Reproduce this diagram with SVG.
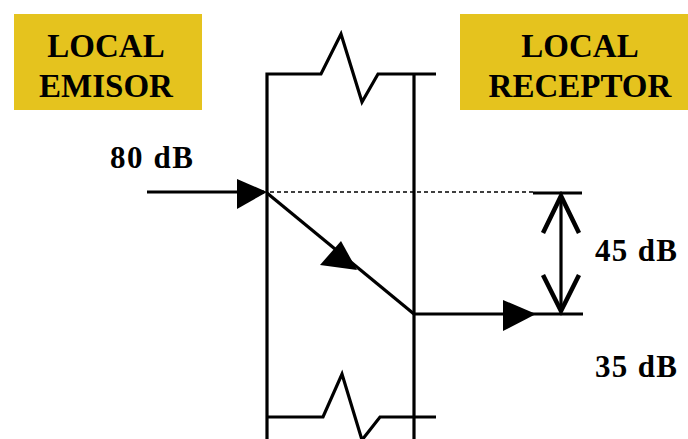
<svg xmlns="http://www.w3.org/2000/svg" width="688" height="439" viewBox="0 0 688 439">
<style>
.box{fill:#E5C31E;}
.lbl{font-family:"Liberation Serif","Times New Roman",Times,serif;font-weight:bold;font-size:33px;fill:#000;text-anchor:middle;}
.db{font-family:"Liberation Serif","Times New Roman",Times,serif;font-weight:bold;font-size:31px;fill:#000;}
.ln{stroke:#000;stroke-width:3.2;fill:none;stroke-linejoin:miter;}
.thin{stroke:#000;stroke-width:1.6;fill:none;stroke-dasharray:4 3;}
.chev{stroke:#000;stroke-width:4.5;fill:none;stroke-linejoin:miter;stroke-linecap:butt;}
.head{fill:#000;}
</style>
<rect width="688" height="439" fill="#fff"/>
<g id="local-emisor">
<rect class="box" x="14" y="14" width="188" height="96"/>
<text class="lbl" x="106" y="57" font-family="Liberation Serif, serif">LOCAL</text>
<text class="lbl" x="106" y="97" font-family="Liberation Serif, serif">EMISOR</text>
</g>
<g id="local-receptor">
<rect class="box" x="460" y="14" width="228" height="96"/>
<text class="lbl" x="580" y="57" font-family="Liberation Serif, serif">LOCAL</text>
<text class="lbl" x="580" y="97" font-family="Liberation Serif, serif">RECEPTOR</text>
</g>
<g id="wall">
<path class="ln" d="M267,439 L267,74 L321,74 L341,34 L362,102 L378,74 L436,74"/>
<path class="ln" d="M414,74 L414,439"/>
<path class="ln" d="M267,417 L323,417 L342,374 L362,440 L380,417 L436,417"/>
</g>
<g id="labels">
<text class="db" x="110" y="168" textLength="83">80 dB</text>
<text class="db" x="595" y="261" textLength="82">45 dB</text>
<text class="db" x="595" y="377" textLength="82">35 dB</text>
</g>
<g id="connectors">
<line class="ln" x1="147" y1="192" x2="264" y2="192"/>
<polygon class="head" points="237,179 267,192 237,209"/>
<line class="thin" x1="270" y1="192" x2="534" y2="192"/>
<line class="ln" x1="533" y1="193" x2="582" y2="193"/>
<line class="ln" x1="267" y1="193" x2="414" y2="314"/>
<polygon class="head" points="320,265 341,241 357,270"/>
<line class="ln" x1="414" y1="314" x2="583" y2="314"/>
<polygon class="head" points="503,300 536,314 503,331"/>
<line class="ln" x1="561" y1="196" x2="561" y2="312"/>
<polyline class="chev" points="543,233 561,196 579,233"/>
<polyline class="chev" points="543,275 561,311 579,275"/>
</g>
</svg>
